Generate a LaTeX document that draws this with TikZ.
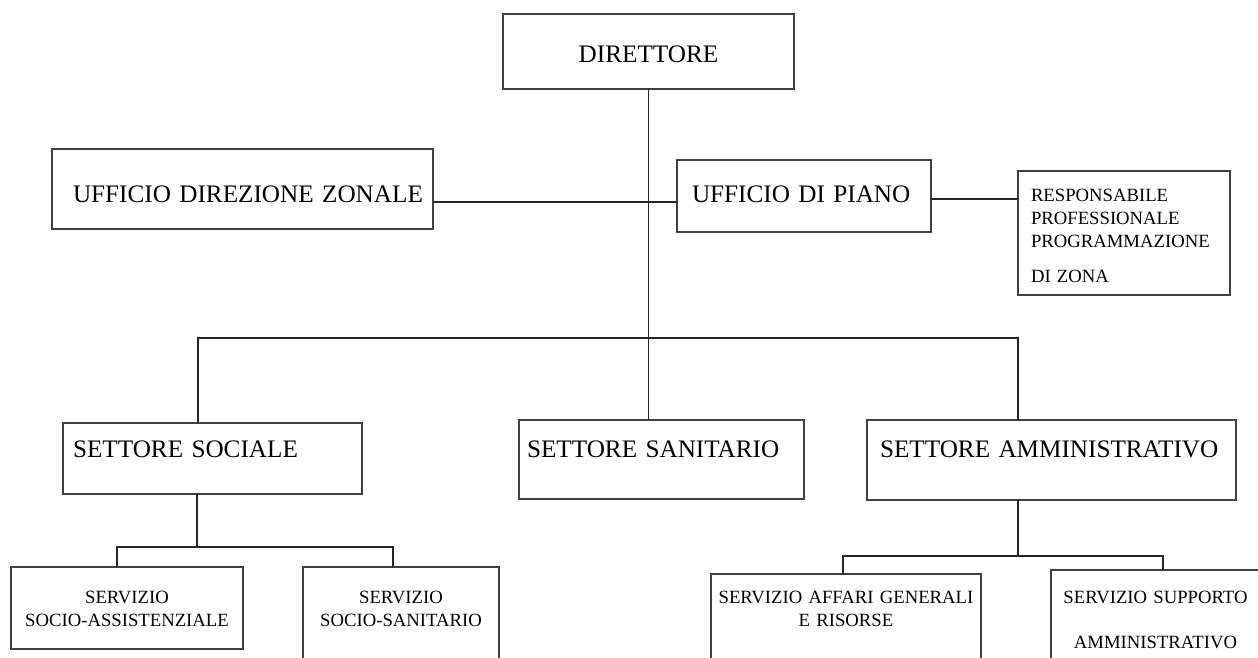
\documentclass[tikz,border=0pt]{standalone}
\usepackage{fontspec}
\setmainfont{Liberation Serif}
\begin{document}
\begin{tikzpicture}[x=1pt, y=-1pt,
        box/.style = {draw=black!75, line width=1.3pt, outer sep=0pt, anchor=north west, inner ysep=0pt},
        dims/.style n args = {4}{minimum width=#1, inner xsep=#2, text width={#1-2*#2}, text height=#3, text depth=#4},
        big/.style = {box, font=\fontsize{25.2}{30}\selectfont},
        small/.style = {box, font=\fontsize{18.7}{23}\selectfont},
        wire/.style = {draw=black!85, line width=1.1pt}]
    \useasboundingbox (0,0) rectangle (1258,657);
    \clip (0,0) rectangle (1258,657);
    \fill[white] (0,0) rectangle (1258,657);
    \node[big, align=center, dims={291pt}{0pt}{48pt}{27pt}] (dir) at (503,14) {DIRETTORE};
    \node[big, align=left, dims={381pt}{21pt}{53pt}{27pt}] (udz) at (52,149) {\mbox{UFFICIO DIREZIONE ZONALE}};
    \node[big, align=left, dims={254pt}{15pt}{42pt}{30pt}] (udp) at (677,160) {UFFICIO DI PIANO};
    \node[small, align=left, dims={212pt}{13pt}{30pt}{94pt}] (resp) at (1018,171)
        {RESPONSABILE\\PROFESSIONALE\\PROGRAMMAZIONE\\[12pt]DI ZONA};
    \node[big, align=left, dims={299pt}{10pt}{34pt}{37pt}] (soc) at (63,423) {SETTORE SOCIALE};
    \node[big, align=left, dims={285pt}{8pt}{37pt}{42pt}] (san) at (519,420) {SETTORE SANITARIO};
    \node[big, align=left, dims={369pt}{13pt}{37pt}{43pt}] (amm) at (867,420) {SETTORE AMMINISTRATIVO};
    \node[small, align=center, dims={232pt}{4pt}{36pt}{46pt}] (sa) at (11,567) {SERVIZIO\\SOCIO-ASSISTENZIALE};
    \node[small, align=center, dims={196pt}{4pt}{36pt}{113pt}] (ss) at (303,567) {SERVIZIO\\SOCIO-SANITARIO};
    \node[small, align=center, dims={270pt}{4pt}{29pt}{106pt}] (aff) at (711,574) {SERVIZIO AFFARI GENERALI\\E RISORSE};
    \node[small, align=center, dims={209pt}{4pt}{33pt}{110pt}] (sup) at (1051,570) {SERVIZIO SUPPORTO\\[22pt]AMMINISTRATIVO};
    \coordinate (zonal) at (0,202);
    \coordinate (plan) at (0,199);
    \coordinate (busL) at (198,338);
    \coordinate (busR) at (1018,338);
    \coordinate (socJ) at (197,547);
    \coordinate (socL) at (117,547);
    \coordinate (socR) at (393,547);
    \coordinate (ammJ) at (1018,556);
    \coordinate (ammL) at (843,556);
    \coordinate (ammR) at (1163,556);
    \draw[wire] (dir.south) -- (dir.south |- san.north);
    \draw[wire] (udz.east |- zonal) -- (udp.west |- zonal);
    \draw[wire] (udp.east |- plan) -- (resp.west |- plan);
    \draw[wire] (soc.north -| busL) -- (busL) -- (busR) -- (amm.north -| busR);
    \draw[wire] (soc.south -| socJ) -- (socJ);
    \draw[wire] (sa.north -| socL) -- (socL) -- (socR) -- (ss.north -| socR);
    \draw[wire] (amm.south -| ammJ) -- (ammJ);
    \draw[wire] (aff.north -| ammL) -- (ammL) -- (ammR) -- (sup.north -| ammR);
\end{tikzpicture}
\end{document}
